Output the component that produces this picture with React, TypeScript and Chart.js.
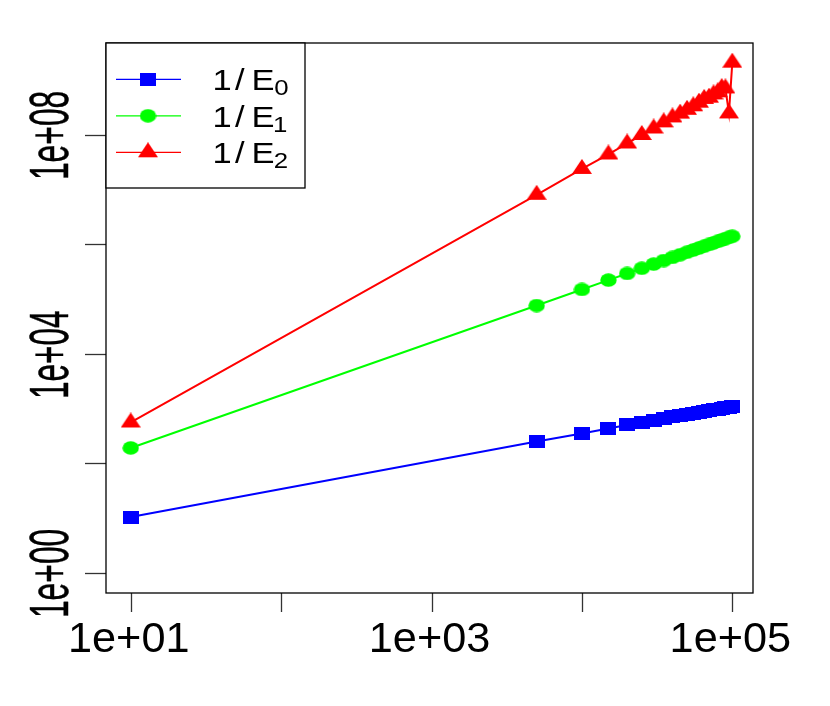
import React, { useEffect, useRef } from "react";
import { Chart, registerables } from "chart.js";

Chart.register(...registerables);

// ---- data ----
const xValues = [
  10, 5000, 10000, 15000, 20000, 25000, 30000, 35000, 40000, 45000, 50000,
  55000, 60000, 65000, 70000, 75000, 80000, 85000, 90000, 95000, 100000,
];
const e0Inverse = [
  10.4, 249, 348, 431, 499, 556, 607, 654, 698, 739, 778, 815, 849, 883, 914,
  946, 975, 1005, 1033, 1059, 1086,
];
const e1Inverse = [
  190, 75900, 148900, 220800, 292400, 363100, 433500, 503500, 574100, 642700,
  712900, 781600, 851100, 918300, 988600, 1057000, 1125000, 1194000, 1262000,
  1330000, 1396000,
];
const e2Inverse = [
  555, 8.0e6, 2.37e7, 4.36e7, 6.92e7, 9.9e7, 1.3e8, 1.68e8, 2.07e8, 2.43e8,
  2.85e8, 3.3e8, 3.85e8, 4.5e8, 4.75e8, 5.45e8, 5.95e8, 7.1e8, 7.0e8, 2.45e8,
  2.07e9,
];
const seriesSubscripts = ["0", "1", "2"];
const seriesColors = ["#0000ff", "#00ff00", "#ff0000"];
const seriesShapes = ["square", "circle", "triangle"];

const xTickValues = [10, 100, 1000, 10000, 100000];
const xTickLabels = ["1e+01", "", "1e+03", "", "1e+05"];
const yTickValues = [1, 100, 10000, 1000000, 100000000];
const yTickLabels = ["1e+00", "", "1e+04", "", "1e+08"];

const xMin = Math.pow(10, 0.8358);
const xMax = Math.pow(10, 5.1376);
const yMin = Math.pow(10, -0.3708);
const yMax = Math.pow(10, 9.6749);

const FONT_FAMILY = '"Liberation Sans", Arial, Helvetica, sans-serif';

function makeMarker(shape: string, color: string): HTMLCanvasElement {
  const c = document.createElement("canvas");
  const ctx = c.getContext("2d")!;
  if (shape === "square") {
    c.width = 16;
    c.height = 13;
    ctx.fillStyle = color;
    ctx.fillRect(0, 0, 16, 13);
  } else if (shape === "circle") {
    c.width = 17;
    c.height = 14;
    ctx.fillStyle = color;
    ctx.beginPath();
    ctx.ellipse(8.5, 7, 8.2, 6.7, 0, 0, Math.PI * 2);
    ctx.fill();
  } else {
    c.width = 20;
    c.height = 20;
    ctx.fillStyle = color;
    ctx.beginPath();
    ctx.moveTo(10, 0);
    ctx.lineTo(20, 15);
    ctx.lineTo(0, 15);
    ctx.closePath();
    ctx.fill();
  }
  return c;
}

function measure(ctx: CanvasRenderingContext2D, text: string, px: number) {
  ctx.font = `${px}px ${FONT_FAMILY}`;
  const m = ctx.measureText(text);
  return {
    l: m.actualBoundingBoxLeft,
    r: m.actualBoundingBoxRight,
    asc: m.actualBoundingBoxAscent,
    w: m.actualBoundingBoxLeft + m.actualBoundingBoxRight,
  };
}

// draw text with given ink width/height, ink centred on the current origin
function drawFitted(
  ctx: CanvasRenderingContext2D,
  text: string,
  inkW: number,
  inkH: number,
  refH: string,
  strokeW: number
) {
  const base = 40;
  const m = measure(ctx, text, base);
  const mh = measure(ctx, refH, base);
  const sx = inkW / m.w;
  const sy = inkH / mh.asc;
  ctx.save();
  ctx.scale(sx, sy);
  ctx.font = `${base}px ${FONT_FAMILY}`;
  ctx.textAlign = "left";
  ctx.textBaseline = "alphabetic";
  const x = -(m.r - m.l) / 2;
  ctx.fillText(text, x, 0);
  if (strokeW > 0) {
    ctx.strokeStyle = ctx.fillStyle as string;
    ctx.lineWidth = strokeW;
    ctx.lineJoin = "round";
    ctx.strokeText(text, x, 0);
  }
  ctx.restore();
}

function drawScaled(
  ctx: CanvasRenderingContext2D,
  text: string,
  inkLeft: number,
  baseline: number,
  sx: number,
  sy: number
) {
  const base = 40;
  const m = measure(ctx, text, base);
  ctx.save();
  ctx.translate(inkLeft, baseline);
  ctx.scale(sx, sy);
  ctx.font = `${base}px ${FONT_FAMILY}`;
  ctx.textAlign = "left";
  ctx.textBaseline = "alphabetic";
  ctx.fillText(text, m.l, 0);
  ctx.restore();
}

export default function App() {
  const canvasRef = useRef<HTMLCanvasElement | null>(null);

  useEffect(() => {
    const canvas = canvasRef.current;
    if (!canvas) return;
    const markers = seriesShapes.map((s, i) => makeMarker(s, seriesColors[i]));
    const seriesValues = [e0Inverse, e1Inverse, e2Inverse];

    const decorPlugin = {
      id: "rDecor",
      afterDraw(chart: any) {
        const ctx: CanvasRenderingContext2D = chart.ctx;
        const a = chart.chartArea;
        const xs = chart.scales.x;
        const ys = chart.scales.y;
        ctx.save();

        // ticks
        ctx.strokeStyle = "#333333";
        ctx.lineWidth = 1.3;
        xTickValues.forEach((v) => {
          const px = Math.round(xs.getPixelForValue(v)) + 0.5;
          ctx.beginPath();
          ctx.moveTo(px, a.bottom);
          ctx.lineTo(px, a.bottom + 19);
          ctx.stroke();
        });
        yTickValues.forEach((v) => {
          const py = Math.round(ys.getPixelForValue(v)) + 0.5;
          ctx.beginPath();
          ctx.moveTo(a.left - 21, py);
          ctx.lineTo(a.left, py);
          ctx.stroke();
        });

        // tick labels
        ctx.fillStyle = "#000000";
        xTickValues.forEach((v, i) => {
          const label = xTickLabels[i];
          if (!label) return;
          const px = xs.getPixelForValue(v);
          ctx.save();
          ctx.translate(px - 1, a.bottom + 59.3);
          drawFitted(ctx, label, 117, 30, "0", 0);
          ctx.restore();
        });
        yTickValues.forEach((v, i) => {
          const label = yTickLabels[i];
          if (!label) return;
          const py = ys.getPixelForValue(v);
          ctx.save();
          ctx.translate(a.left - 38, py);
          ctx.rotate(-Math.PI / 2);
          drawFitted(ctx, label, 86, 39, "0", 0.35);
          ctx.restore();
        });

        // frame
        ctx.strokeStyle = "#000000";
        ctx.lineWidth = 1.3;
        ctx.strokeRect(a.left, a.top, a.right - a.left, a.bottom - a.top);

        // legend
        const lx = a.left;
        const ly = a.top;
        ctx.fillStyle = "#ffffff";
        ctx.fillRect(lx, ly, 199, 145);
        ctx.strokeStyle = "#000000";
        ctx.lineWidth = 1.3;
        ctx.strokeRect(lx, ly, 199, 145);

        const mE = measure(ctx, "E", 40);
        const sy = 21 / mE.asc;
        const sx = 19 / mE.w;
        const m0 = measure(ctx, "0", 40);
        const ssy = 15.7 / m0.asc;
        const ssx = sx * (15.7 / 21);

        seriesSubscripts.forEach((sub, i) => {
          const ry = ly + 36.3 + i * 36.5;
          ctx.strokeStyle = seriesColors[i];
          ctx.lineWidth = 1.2;
          ctx.beginPath();
          ctx.moveTo(lx + 10, ry);
          ctx.lineTo(lx + 75, ry);
          ctx.stroke();
          const mk = markers[i];
          ctx.drawImage(mk, lx + 42 - mk.width / 2, ry - mk.height / 2);
          ctx.fillStyle = "#000000";
          drawScaled(ctx, "1", lx + 109, ry + 10.7, sx, sy);
          drawScaled(ctx, "/", lx + 129, ry + 10.7, sx, sy);
          drawScaled(ctx, "E", lx + 148, ry + 10.7, sx, sy);
          drawScaled(ctx, sub, lx + 169, ry + 15.7, ssx, ssy);
        });

        ctx.restore();
      },
    };

    const chart = new Chart(canvas, {
      type: "line",
      data: {
        datasets: seriesValues.map((vals, i) => ({
          label: "1/E" + seriesSubscripts[i],
          data: xValues.map((x, j) => ({ x, y: vals[j] })),
          borderColor: seriesColors[i],
          backgroundColor: seriesColors[i],
          borderWidth: 2,
          pointStyle: markers[i] as any,
          pointRadius: 8,
          pointHoverRadius: 8,
          tension: 0,
          fill: false,
          clip: false as any,
        })),
      },
      options: {
        responsive: false,
        animation: false,
        devicePixelRatio: 1,
        layout: { padding: { left: 106, top: 43, right: 77, bottom: 113 } },
        plugins: {
          legend: { display: false },
          tooltip: { enabled: false },
          title: { display: false },
        },
        events: [],
        scales: {
          x: {
            type: "logarithmic",
            min: xMin,
            max: xMax,
            bounds: "data",
            display: false,
          },
          y: {
            type: "logarithmic",
            min: yMin,
            max: yMax,
            bounds: "data",
            display: false,
          },
        },
      },
      plugins: [decorPlugin],
    });

    return () => {
      chart.destroy();
    };
  }, []);

  return (
    <div
      style={{
        position: "fixed",
        left: 0,
        top: 0,
        width: 830,
        height: 706,
        background: "#ffffff",
      }}
    >
      <canvas
        ref={canvasRef}
        width={830}
        height={706}
        style={{ width: 830, height: 706 }}
      />
    </div>
  );
}
